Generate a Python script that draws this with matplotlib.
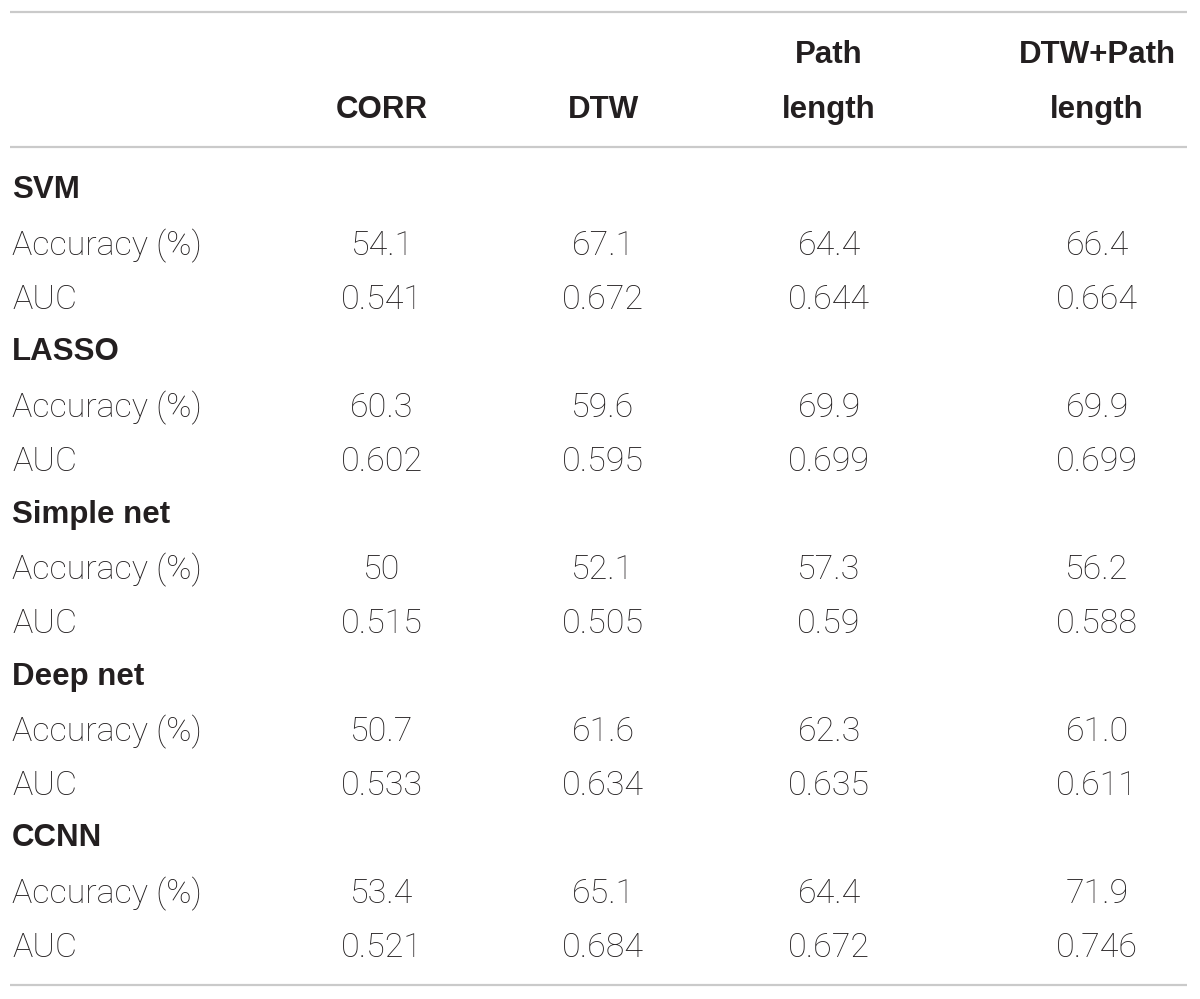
import matplotlib
matplotlib.use("Agg")
import matplotlib.pyplot as plt

columns = [["", "CORR"], ["", "DTW"], ["Path", "length"], ["DTW+Path", "length"]]
models = ["SVM", "LASSO", "Simple net", "Deep net", "CCNN"]
metrics = ["Accuracy (%)", "AUC"]
accuracy = [
    ["54.1", "67.1", "64.4", "66.4"],
    ["60.3", "59.6", "69.9", "69.9"],
    ["50", "52.1", "57.3", "56.2"],
    ["50.7", "61.6", "62.3", "61.0"],
    ["53.4", "65.1", "64.4", "71.9"],
]
auc = [
    ["0.541", "0.672", "0.644", "0.664"],
    ["0.602", "0.595", "0.699", "0.699"],
    ["0.515", "0.505", "0.59", "0.588"],
    ["0.533", "0.634", "0.635", "0.611"],
    ["0.521", "0.684", "0.672", "0.746"],
]

W, H = 1200, 999
fig = plt.figure(figsize=(W / 100, H / 100), dpi=100)
ax = fig.add_axes([0, 0, 1, 1])
ax.set_xlim(0, W)
ax.set_ylim(H, 0)
ax.axis("off")

txt_color = "#231f20"
line_color = "#cacaca"
body_font = dict(family=["Roboto", "DejaVu Sans"], fontsize=24.5, fontweight="light", color=txt_color)
bold_font = dict(family=["Liberation Sans", "DejaVu Sans"], fontsize=22.5, fontweight="bold", color=txt_color)

col_x = [382, 603, 829, 1097]
left_x = 12

# rules
for y in (12, 147, 985):
    ax.plot([10, 1187], [y, y], color=line_color, lw=1.6, solid_capstyle="butt")

# header (two lines, baselines)
for cx, (l1, l2) in zip(col_x, columns):
    if l1:
        ax.text(cx, 63, l1, ha="center", va="baseline", **bold_font)
    ax.text(cx, 118, l2, ha="center", va="baseline", **bold_font)

row_h = 54
y0 = 188
for i, m in enumerate(models):
    yc = y0 + i * 3 * row_h
    ax.text(left_x, yc + 10.5, m, ha="left", va="baseline", **bold_font)
    for j, (label, vals) in enumerate(zip(metrics, (accuracy[i], auc[i]))):
        y = yc + (j + 1) * row_h + 13
        ax.text(left_x, y, label, ha="left", va="baseline", **body_font)
        for cx, v in zip(col_x, vals):
            ax.text(cx, y, v, ha="center", va="baseline", **body_font)

fig.savefig("out.png", dpi=100, facecolor="white")
